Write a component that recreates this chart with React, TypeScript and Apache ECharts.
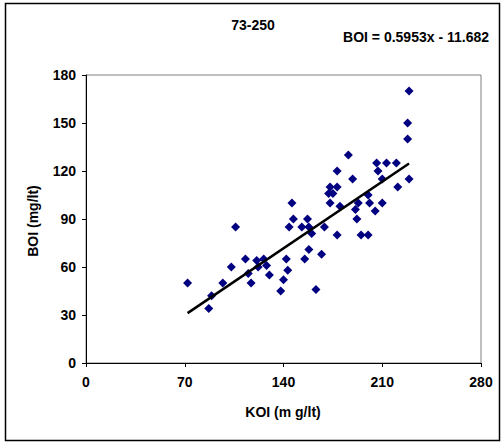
import React, { useEffect, useRef } from "react";
import * as echarts from "echarts";

const titleText = "73-250";
const equationText = "BOI = 0.5953x - 11.682";
const xName = "KOI (m g/lt)";
const yName = "BOI (mg/lt)";
const slope = 0.5953;
const intercept = -11.682;

const koi = [72, 87, 89, 97, 103, 106, 113, 115, 117, 121, 122, 126, 128, 130, 138, 140, 143, 142, 144, 146, 147, 153, 157, 158, 155, 158, 160, 163, 167, 169, 172, 175, 173, 178, 178, 173, 180, 178, 186, 189, 191, 192, 193, 195, 200, 200, 201, 206, 213, 220, 207, 210, 229, 221, 210, 205, 229, 228, 228];
const boi = [50, 34, 42, 50, 60, 85, 65, 56, 50, 64, 60, 65, 61, 55, 45, 52, 58, 65, 85, 100, 90, 85, 90, 85, 65, 71, 81, 46, 68, 85, 106, 106, 110, 110, 120, 100, 98, 80, 130, 115, 96, 90, 100, 80, 80, 105, 100, 125, 125, 125, 120, 115, 115, 110, 100, 95, 170, 150, 140];

const xTicks = { min: 0, max: 280, interval: 70 };
const yTicks = { min: 0, max: 180, interval: 30 };

const FONT = "'Liberation Sans', Arial, sans-serif";

export default function App() {
  const ref = useRef<HTMLDivElement>(null);
  useEffect(() => {
    document.body.style.margin = "0";
    const chart = echarts.init(ref.current!, null, { renderer: "svg" });
    const points = koi.map((x, i) => [x, boi[i]]);
    const xMin = Math.min(...koi);
    const xMax = Math.max(...koi);
    const trend = [
      [xMin, slope * xMin + intercept],
      [xMax, slope * xMax + intercept],
    ];
    const labelStyle = { color: "#000", fontWeight: "bold" as const, fontSize: 14, fontFamily: FONT };
    chart.setOption({
      animation: false,
      backgroundColor: "#fff",
      grid: { left: 86, top: 75, width: 395, height: 288, show: true, borderColor: "#808080", borderWidth: 1, backgroundColor: "transparent" },
      xAxis: {
        type: "value",
        ...xTicks,
        axisLine: { show: true, lineStyle: { color: "#000", width: 1 } },
        axisTick: { show: true, inside: false, length: 4, lineStyle: { color: "#000" } },
        splitLine: { show: false },
        axisLabel: { ...labelStyle, margin: 12 },
      },
      yAxis: {
        type: "value",
        ...yTicks,
        axisLine: { show: true, lineStyle: { color: "#000", width: 1 } },
        axisTick: { show: true, inside: false, length: 4, lineStyle: { color: "#000" } },
        splitLine: { show: false },
        axisLabel: { ...labelStyle, margin: 10 },
      },
      graphic: [
        { type: "rect", shape: { x: 5.5, y: 3.5, width: 494, height: 437 }, style: { fill: "none", stroke: "#000", lineWidth: 1.5 }, z: -1 },
        { type: "text", x: 253, y: 25, style: { text: titleText, align: "center", verticalAlign: "middle", ...labelStyle, fill: "#000" } },
        { type: "text", x: 489, y: 37, style: { text: equationText, align: "right", verticalAlign: "middle", ...labelStyle, fill: "#000" } },
        { type: "text", x: 283, y: 412, style: { text: xName, align: "center", verticalAlign: "middle", ...labelStyle, fill: "#000" } },
        { type: "text", x: 33, y: 221, rotation: Math.PI / 2, style: { text: yName, align: "center", verticalAlign: "middle", ...labelStyle, fill: "#000" } },
      ],
      series: [
        {
          type: "scatter",
          data: points,
          symbol: "diamond",
          symbolSize: 9,
          itemStyle: { color: "#000080", opacity: 1 },
          z: 2,
        },
        {
          type: "line",
          data: trend,
          showSymbol: false,
          symbol: "none",
          lineStyle: { color: "#000", width: 2.5 },
          z: 3,
        },
      ],
    });
    return () => chart.dispose();
  }, []);
  return <div ref={ref} style={{ width: 502, height: 443 }} />;
}
